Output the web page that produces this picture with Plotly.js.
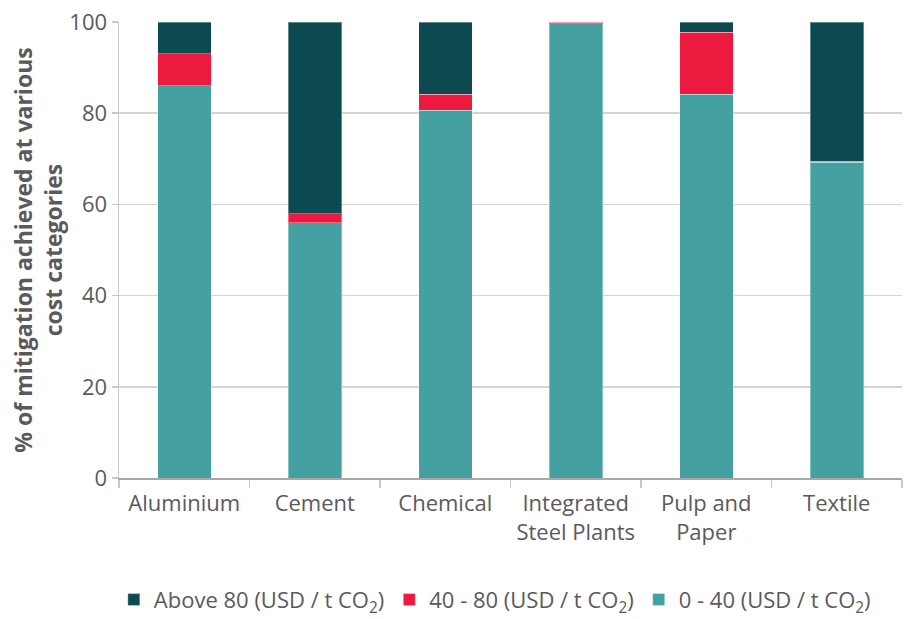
<!DOCTYPE html>
<html>
<head>
<meta charset="utf-8">
<script src="https://cdn.plot.ly/plotly-3.0.1.min.js"></script>
<style>html,body{margin:0;padding:0;background:#fff;}#chart{width:921px;height:619px;}</style>
</head>
<body>
<div id="chart"></div>
<script>
const categories = ["Aluminium", "Cement", "Chemical", "Integrated<br>Steel Plants", "Pulp and<br>Paper", "Textile"];
const low = [86, 56, 80.7, 99.6, 84.2, 69.2];       // 0 - 40 USD/t CO2
const mid = [7, 2, 3.5, 0.4, 13.6, 0.3];            // 40 - 80 USD/t CO2
const high = [7, 42, 15.8, 0, 2.2, 30.5];           // Above 80 USD/t CO2
const seriesNames = ["0 - 40 (USD / t CO<sub>2</sub>)", "40 - 80 (USD / t CO<sub>2</sub>)", "Above 80 (USD / t CO<sub>2</sub>)"];
const colors = ["#45a0a2", "#ec1a3e", "#0b4a50"];
const yTicks = [0, 20, 40, 60, 80, 100];

const font = "Open Sans, sans-serif";
const textColor = "#5a5a5c";
const series = [low, mid, high];
const traces = series.map((vals, i) => ({
  type: "bar",
  x: categories,
  y: vals,
  name: seriesNames[i],
  marker: {color: colors[i], line: {color: "rgba(255,255,255,0.35)", width: 1}},
  hoverinfo: "x+y+name"
}));

const layout = {
  width: 921, height: 619,
  margin: {l: 119, r: 19, t: 22, b: 141},
  barmode: "stack",
  bargap: 0.59,
  paper_bgcolor: "#fff",
  plot_bgcolor: "#fff",
  font: {family: font, color: textColor, size: 22},
  xaxis: {
    type: "category",
    automargin: false,
    tickangle: 0,
    showline: true, linecolor: "#a8a8a8", linewidth: 2,
    ticks: "outside", tickson: "boundaries", ticklen: 8, tickcolor: "#c8c8c8", tickwidth: 1.5,
    tickfont: {family: font, size: 22, color: textColor},
    ticklabelstandoff: 5,
    showgrid: false
  },
  yaxis: {
    automargin: false,
    range: [0, 100],
    tickvals: yTicks,
    showline: true, linecolor: "#c8c8c8", linewidth: 1.5,
    ticks: "outside", ticklen: 6, tickcolor: "#c8c8c8", tickwidth: 1.5,
    gridcolor: "#d4d4d4", gridwidth: 1.5,
    zeroline: false,
    tickfont: {family: font, size: 22, color: textColor},
    title: {text: "<b>% of mitigation achieved at various<br>cost categories</b>", font: {family: font, size: 23, color: textColor}, standoff: 0}
  },
  legend: {
    orientation: "h", x: 0.48, xanchor: "center",
    yref: "container", y: 0.031, yanchor: "middle",
    traceorder: "reversed",
    font: {family: font, size: 22, color: textColor},
    itemwidth: 30
  },
  showlegend: true
};

Plotly.newPlot("chart", traces, layout, {displayModeBar: false, staticPlot: true});
</script>
</body>
</html>
